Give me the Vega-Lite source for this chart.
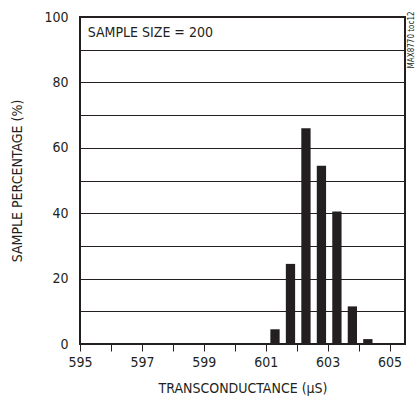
{
  "$schema": "https://vega.github.io/schema/vega-lite/v6.json",
  "autosize": "none",
  "width": 325,
  "height": 327,
  "padding": {"left": 80, "top": 17, "right": 14, "bottom": 60},
  "background": "white",
  "config": {
    "view": {"stroke": "#231f20", "strokeWidth": 2},
    "font": "DejaVu Sans Condensed, Liberation Sans, sans-serif",
    "axis": {"labelFont": "DejaVu Sans Condensed, Liberation Sans, sans-serif", "titleFont": "DejaVu Sans Condensed, Liberation Sans, sans-serif", "labelColor": "#231f20", "titleColor": "#231f20", "labelFontSize": 14, "titleFontSize": 14, "titleFontWeight": "normal", "domain": false}
  },
  "datasets": {
    "bars": [
      {"lo": 601.15, "hi": 601.45, "pct": 4.5},
      {"lo": 601.65, "hi": 601.95, "pct": 24.5},
      {"lo": 602.15, "hi": 602.45, "pct": 66},
      {"lo": 602.65, "hi": 602.95, "pct": 54.5},
      {"lo": 603.15, "hi": 603.45, "pct": 40.5},
      {"lo": 603.65, "hi": 603.95, "pct": 11.5},
      {"lo": 604.15, "hi": 604.45, "pct": 1.5}
    ],
    "notes": [
      {"lo": 595.25, "pct": 95, "label": "SAMPLE SIZE = 200"}
    ],
    "code": [
      {"lo": 605.5, "pct": 93, "label": "MAX8770 toc12"}
    ]
  },
  "encoding": {
    "x": {
      "field": "lo", "type": "quantitative",
      "scale": {"domain": [595, 605.5], "nice": false, "zero": false},
      "axis": {
        "title": "TRANSCONDUCTANCE (µS)",
        "values": [595, 596, 597, 598, 599, 600, 601, 602, 603, 604, 605],
        "labelExpr": "datum.value % 2 == 1 ? datum.label : ''",
        "grid": false, "ticks": true, "tickSize": 7, "tickColor": "#231f20", "tickWidth": 1,
        "labelPadding": 4, "titlePadding": 12, "labelFlush": false
      }
    },
    "y": {
      "field": "pct", "type": "quantitative",
      "scale": {"domain": [0, 100], "nice": false},
      "axis": {
        "title": "SAMPLE PERCENTAGE (%)",
        "values": [0, 10, 20, 30, 40, 50, 60, 70, 80, 90, 100],
        "labelExpr": "datum.value % 20 == 0 ? datum.label : ''",
        "labelOverlap": false,
        "grid": true, "gridColor": "#231f20", "gridWidth": 1, "gridOpacity": 1,
        "ticks": false, "labelPadding": 12, "titlePadding": 19
      }
    }
  },
  "layer": [
    {
      "data": {"name": "bars"},
      "mark": {"type": "bar", "color": "#231f20"},
      "encoding": {
        "x2": {"field": "hi"},
        "y2": {"datum": 0}
      }
    },
    {
      "data": {"name": "notes"},
      "mark": {"type": "text", "align": "left", "baseline": "middle", "fontSize": 14, "color": "#231f20"},
      "encoding": {
        "text": {"field": "label"}
      }
    },
    {
      "data": {"name": "code"},
      "mark": {"type": "text", "angle": 270, "align": "center", "baseline": "middle", "fontSize": 8, "color": "#231f20", "dy": 7, "clip": false},
      "encoding": {
        "text": {"field": "label"}
      }
    }
  ]
}
